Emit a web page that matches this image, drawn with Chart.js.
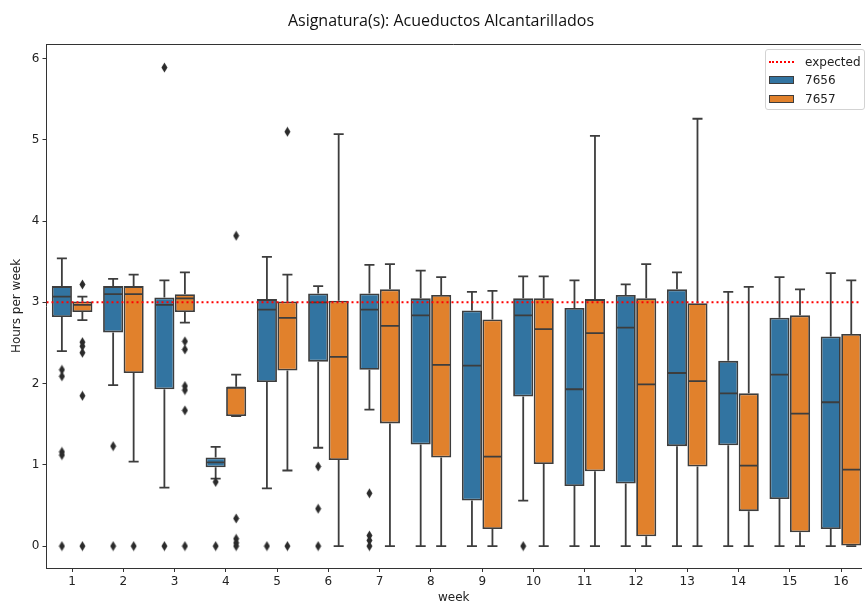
<!DOCTYPE html>
<html>
<head>
<meta charset="utf-8">
<script src="https://cdn.jsdelivr.net/npm/chart.js@4.4.1/dist/chart.umd.min.js"></script>
<style>
  html, body { margin: 0; padding: 0; background: #fff; overflow: hidden; }
  #wrap { position: relative; width: 866px; height: 605px; }
  .title {
    position: absolute; left: 0; top: 9px; width: 882px; text-align: center;
    font: 500 16px 'Open Sans', sans-serif; line-height: 22px; color: #111;
  }
  .legend {
    position: absolute; left: 765px; top: 49px; width: 100px; height: 61px;
    border: 1px solid #d3d3d3; border-radius: 3px; background: rgba(255,255,255,0.85);
    box-sizing: border-box; font: 12px 'DejaVu Sans', sans-serif; color: #222;
  }
  .row { position: absolute; left: 3px; height: 14px; display: flex; align-items: center; }
  .row .h { width: 25px; margin-right: 11px; box-sizing: border-box; }
  .dotted { height: 0; border-top: 2px dotted #f00; }
  .patch { height: 8px; border: 1px solid #3d3d3d; }
</style>
</head>
<body>
<div id="wrap">
  <canvas id="chart" width="866" height="605"></canvas>
  <div class="title">Asignatura(s): Acueductos Alcantarillados</div>
  <div class="legend">
    <div class="row" style="top:5px"><span class="h dotted"></span>expected</div>
    <div class="row" style="top:23px"><span class="h patch" style="background:#3274a1"></span>7656</div>
    <div class="row" style="top:42px"><span class="h patch" style="background:#e1812c"></span>7657</div>
  </div>
</div>
<script>
// semanas y valores (horas por semana)
const weeks = [1, 2, 3, 4, 5, 6, 7, 8, 9, 10, 11, 12, 13, 14, 15, 16];
const yTicks = [0, 1, 2, 3, 4, 5, 6];
const expected = 3;

// grupo 7656: bigote inferior, Q1, mediana, Q3, bigote superior, atipicos
const lo7656  = [2.40, 1.98, 0.72, 0.83, 0.71, 1.21, 1.68, 0, 0, 0.56, 0, 0, 0, 0, 0, 0];
const q1_7656 = [2.82, 2.63, 1.93, 0.97, 2.02, 2.27, 2.17, 1.25, 0.56, 1.84, 0.74, 0.77, 1.23, 1.24, 0.58, 0.21];
const med7656 = [3.07, 3.10, 2.97, 1.03, 2.91, 3.00, 2.91, 2.84, 2.22, 2.84, 1.93, 2.69, 2.13, 1.88, 2.11, 1.77];
const q3_7656 = [3.20, 3.20, 3.06, 1.09, 3.04, 3.11, 3.11, 3.05, 2.90, 3.05, 2.93, 3.09, 3.16, 2.28, 2.81, 2.58];
const hi7656  = [3.54, 3.29, 3.27, 1.22, 3.56, 3.20, 3.46, 3.39, 3.13, 3.32, 3.27, 3.22, 3.37, 3.13, 3.31, 3.36];
const out7656 = [
  [2.17, 2.09, 1.16, 1.12, 0], [1.23, 0], [5.89, 0], [0.79, 0], [0], [0.98, 0.46, 0],
  [0.65, 0.13, 0.07, 0], [], [], [0], [], [], [], [], [], []
];

// grupo 7657
const lo7657  = [2.78, 1.04, 2.75, 1.60, 0.93, 0, 0, 0, 0, 0, 0, 0, 0, 0, 0, 0];
const q1_7657 = [2.88, 2.13, 2.88, 1.60, 2.16, 1.06, 1.51, 1.09, 0.21, 1.01, 0.92, 0.12, 0.98, 0.43, 0.17, 0];
const med7657 = [2.97, 3.10, 3.05, 1.95, 2.81, 2.33, 2.71, 2.23, 1.10, 2.67, 2.62, 1.99, 2.03, 0.99, 1.63, 0.94];
const q3_7657 = [3.01, 3.20, 3.10, 1.96, 3.01, 3.02, 3.16, 3.09, 2.79, 3.05, 3.04, 3.05, 2.99, 1.88, 2.84, 2.61];
const hi7657  = [3.07, 3.34, 3.37, 2.11, 3.34, 5.07, 3.47, 3.31, 3.14, 3.32, 5.05, 3.47, 5.26, 3.19, 3.16, 3.27];
const out7657 = [
  [3.22, 2.51, 2.46, 2.38, 1.85, 0], [0], [2.52, 2.42, 1.97, 1.92, 1.67, 0], [3.82, 0.34, 0.09, 0.04, 0],
  [5.10, 0], [], [], [], [], [], [], [], [], [], [], []
];

const blue = '#3274a1';
const orange = '#e1812c';
const lineColor = '#3d3d3d';

// marcador de diamante delgado para los atipicos
const diamond = document.createElement('canvas');
diamond.width = 7; diamond.height = 11;
(() => {
  const c = diamond.getContext('2d');
  c.fillStyle = '#2b2b2b';
  c.beginPath();
  c.moveTo(3.5, 0.5); c.lineTo(6.5, 5.5); c.lineTo(3.5, 10.5); c.lineTo(0.5, 5.5);
  c.closePath(); c.fill();
})();

// bigotes, topes y mediana dibujados sobre cada caja
const boxWhiskers = {
  id: 'boxWhiskers',
  afterDatasetDraw(chart, args) {
    const ds = chart.data.datasets[args.index];
    if (!ds.stats) return;
    const y = chart.scales.y;
    const ctx = chart.ctx;
    const a = chart.chartArea;
    const s = ds.stats;
    ctx.save();
    ctx.beginPath();
    ctx.rect(a.left, a.top, a.right - a.left, a.bottom - a.top);
    ctx.clip();
    ctx.strokeStyle = lineColor;
    ctx.lineWidth = 1.8;
    const seg = (x1, y1, x2, y2) => { ctx.beginPath(); ctx.moveTo(x1, y1); ctx.lineTo(x2, y2); ctx.stroke(); };
    args.meta.data.forEach((bar, i) => {
      const half = bar.width / 2;
      const cap = bar.width / 4;
      const yLo = y.getPixelForValue(s.lo[i]);
      const yQ1 = y.getPixelForValue(s.q1[i]);
      const yMed = y.getPixelForValue(s.med[i]);
      const yQ3 = y.getPixelForValue(s.q3[i]);
      const yHi = y.getPixelForValue(s.hi[i]);
      seg(bar.x, yQ3, bar.x, yHi);
      seg(bar.x - cap, yHi, bar.x + cap, yHi);
      seg(bar.x, yQ1, bar.x, yLo);
      seg(bar.x - cap, yLo, bar.x + cap, yLo);
      seg(bar.x - half + 1, yMed, bar.x + half - 1, yMed);
    });
    ctx.restore();
  },
  afterDraw(chart) {
    // borde superior del area de trazado
    const a = chart.chartArea;
    const ctx = chart.ctx;
    ctx.save();
    ctx.strokeStyle = '#333';
    ctx.lineWidth = 1;
    ctx.beginPath();
    ctx.moveTo(a.left, a.top + 0.5);
    ctx.lineTo(a.right, a.top + 0.5);
    ctx.stroke();
    ctx.restore();
  }
};

const boxData = (q1, q3) => weeks.map((w, i) => ({ x: w, y: [q1[i], q3[i]] }));
const outData = (out, shift) => weeks.flatMap((w, i) => out[i].map(v => ({ x: w + shift, y: v })));

const font = { family: 'DejaVu Sans', size: 12 };

new Chart(document.getElementById('chart'), {
  type: 'bar',
  data: {
    datasets: [
      {
        type: 'line', label: 'expected', order: 0,
        data: [{ x: 0.5, y: expected }, { x: 16.5, y: expected }],
        borderColor: '#ff0000', borderWidth: 2, borderDash: [2, 3], pointRadius: 0
      },
      {
        label: '7656', order: 2,
        data: boxData(q1_7656, q3_7656),
        stats: { lo: lo7656, q1: q1_7656, med: med7656, q3: q3_7656, hi: hi7656 },
        backgroundColor: blue, borderColor: lineColor, borderWidth: 1.8, borderSkipped: false
      },
      {
        label: '7657', order: 2,
        data: boxData(q1_7657, q3_7657),
        stats: { lo: lo7657, q1: q1_7657, med: med7657, q3: q3_7657, hi: hi7657 },
        backgroundColor: orange, borderColor: lineColor, borderWidth: 1.8, borderSkipped: false
      },
      {
        type: 'scatter', label: 'out7656', order: 1,
        data: outData(out7656, -0.2), pointStyle: diamond
      },
      {
        type: 'scatter', label: 'out7657', order: 1,
        data: outData(out7657, 0.2), pointStyle: diamond
      }
    ]
  },
  options: {
    responsive: false,
    animation: false,
    layout: { padding: { top: 44, left: 0, right: 0, bottom: 0 } },
    datasets: { bar: { categoryPercentage: 0.8, barPercentage: 0.98 } },
    plugins: {
      legend: { display: false },
      tooltip: { enabled: false },
      title: { display: false }
    },
    scales: {
      x: {
        type: 'linear', min: 0.5, max: 16.39, offset: false,
        afterBuildTicks: s => { s.ticks = weeks.map(v => ({ value: v })); },
        afterFit: s => { s.height = 37; },
        ticks: { color: '#222', font, padding: 3, autoSkip: false, maxRotation: 0 },
        grid: { drawOnChartArea: false, offset: false, tickLength: 4, color: '#333' },
        border: { color: '#333', width: 1 },
        title: { display: true, text: 'week', color: '#222', font, padding: { top: 0, bottom: 0 } }
      },
      y: {
        min: -0.27, max: 6.18,
        afterBuildTicks: s => { s.ticks = yTicks.map(v => ({ value: v })); },
        afterFit: s => { s.width = 46.5; },
        ticks: { color: '#222', font, padding: 3 },
        grid: { drawOnChartArea: false, tickLength: 4, color: '#333' },
        border: { color: '#333', width: 1 },
        title: { display: true, text: 'Hours per week', color: '#222', font, padding: { top: 10, bottom: 0 } }
      }
    }
  },
  plugins: [boxWhiskers]
});
</script>
</body>
</html>
